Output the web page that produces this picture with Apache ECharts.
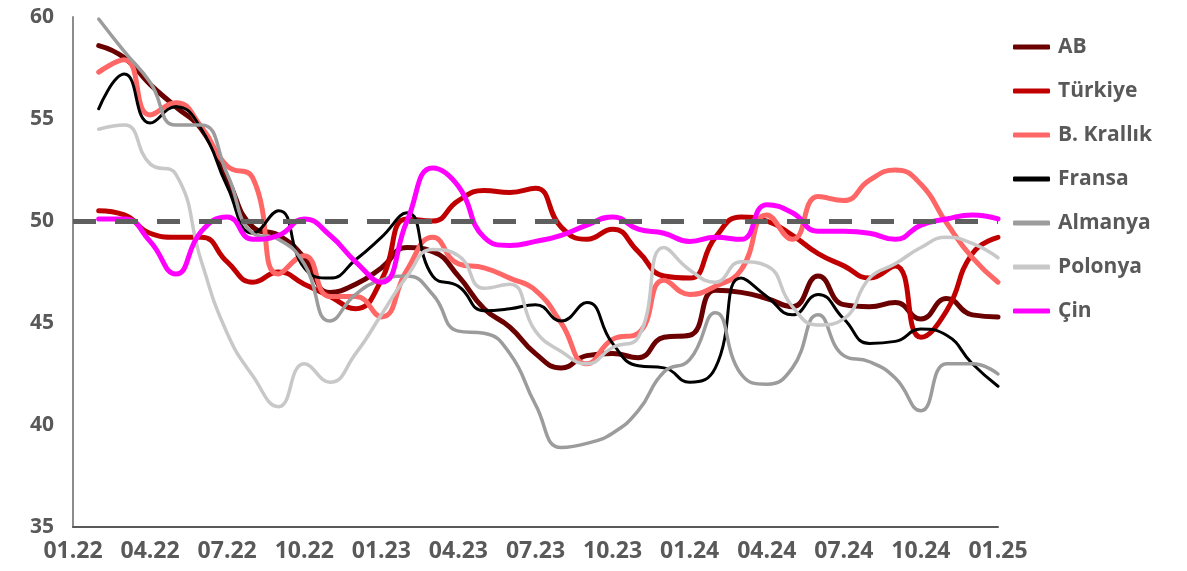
<!DOCTYPE html>
<html>
<head>
<meta charset="utf-8">
<script src="https://cdn.jsdelivr.net/npm/echarts@6/dist/echarts.min.js"></script>
<style>
html,body{margin:0;padding:0;background:#fff;}
#chart{width:1187px;height:571px;}
</style>
</head>
<body>
<div id="chart"></div>
<script>
const categories = ['01.22','02.22','03.22','04.22','05.22','06.22','07.22','08.22','09.22','10.22','11.22','12.22',
  '01.23','02.23','03.23','04.23','05.23','06.23','07.23','08.23','09.23','10.23','11.23','12.23',
  '01.24','02.24','03.24','04.24','05.24','06.24','07.24','08.24','09.24','10.24','11.24','12.24','01.25'];
const yTicks = [35, 40, 45, 50, 55, 60];
const refLevel = 50;

const AB = [null, 58.6, 58.0, 56.7, 55.6, 54.5, 52.1, 49.7, 49.3, 48.2, 46.5, 46.9, 47.7, 48.7, 48.5, 47.3, 45.7, 44.8, 43.5, 42.8, 43.4, 43.5, 43.3, 44.3, 44.4, 46.6, 46.5, 46.2, 45.8, 47.3, 45.9, 45.8, 46.0, 45.2, 46.2, 45.4, 45.3];
const Turkiye = [null, 50.5, 50.3, 49.4, 49.2, 49.2, 48.0, 47.0, 47.5, 46.9, 46.3, 45.7, 47.1, 50.1, 50.0, 51.0, 51.5, 51.4, 51.6, 49.7, 49.1, 49.6, 48.5, 47.3, 47.2, 49.2, 50.2, 50.0, 49.3, 48.4, 47.8, 47.2, 47.8, 44.3, 45.6, 48.4, 49.2];
const BKrallik = [null, 57.3, 57.9, 55.2, 55.8, 54.6, 52.7, 52.1, 47.4, 48.3, 46.3, 46.3, 45.3, 47.6, 49.2, 47.9, 47.7, 47.2, 46.6, 45.0, 43.0, 44.2, 44.5, 47.1, 46.4, 46.8, 47.6, 50.3, 49.1, 51.2, 51.0, 52.0, 52.5, 51.8, 49.9, 48.2, 47.0];
const Fransa = [null, 55.5, 57.2, 54.8, 55.6, 54.5, 51.7, 49.4, 50.5, 47.7, 47.2, 48.1, 49.2, 50.4, 47.3, 46.8, 45.6, 45.7, 45.9, 45.1, 46.0, 44.0, 42.9, 42.8, 42.1, 42.8, 47.2, 46.3, 45.4, 46.4, 45.2, 44.0, 44.1, 44.7, 44.4, 43.0, 41.9];
const Almanya = [null, 59.9, 58.3, 56.8, 54.7, 54.7, 52.3, 49.4, 49.1, 47.9, 45.1, 46.4, 47.1, 47.3, 46.4, 44.6, 44.5, 43.5, 41.0, 38.9, 39.1, 39.6, 40.7, 42.6, 43.2, 45.5, 42.5, 42.0, 42.8, 45.4, 43.4, 43.1, 42.3, 40.7, 43.0, 43.0, 42.5];
const Polonya = [null, 54.5, 54.7, 52.8, 52.3, 48.0, 44.5, 42.4, 40.9, 43.0, 42.1, 43.5, 45.4, 47.3, 48.6, 48.3, 46.7, 46.9, 44.6, 43.6, 43.0, 43.8, 44.3, 48.7, 47.6, 47.0, 48.0, 47.8, 45.8, 44.9, 45.2, 47.2, 47.9, 48.7, 49.2, 48.9, 48.2];
const Cin = [null, 50.1, 50.1, 49.0, 47.4, 49.5, 50.2, 49.1, 49.3, 50.1, 49.3, 48.0, 47.0, 50.0, 52.6, 51.7, 49.2, 48.8, 49.0, 49.3, 49.8, 50.2, 49.6, 49.4, 49.0, 49.2, 49.1, 50.8, 50.4, 49.5, 49.5, 49.4, 49.1, 49.8, 50.1, 50.3, 50.1];

const seriesDefs = [
  {name: 'AB', data: AB, color: '#6B0000', width: 5},
  {name: 'Türkiye', data: Turkiye, color: '#C00000', width: 5},
  {name: 'B. Krallık', data: BKrallik, color: '#FF6666', width: 5},
  {name: 'Fransa', data: Fransa, color: '#000000', width: 3},
  {name: 'Almanya', data: Almanya, color: '#9C9C9C', width: 3.5},
  {name: 'Polonya', data: Polonya, color: '#C8C8C8', width: 3.5},
  {name: 'Çin', data: Cin, color: '#FF00FF', width: 5}
];

const FONT = '"Open Sans", "DejaVu Sans", sans-serif';
const TXT = '#595959';

const chart = echarts.init(document.getElementById('chart'), null, {renderer: 'canvas'});

const series = [{
  name: 'ref',
  type: 'line',
  data: [],
  silent: true,
  z: 1,
  markLine: {
    silent: true,
    symbol: ['none', 'none'],
    label: {show: false},
    lineStyle: {color: '#5F5F5F', width: 5, type: [23, 19], cap: 'butt'},
    data: [{yAxis: refLevel}]
  }
}];
seriesDefs.forEach(s => {
  series.push({
    name: s.name,
    type: 'line',
    data: s.data,
    smooth: 0.5,
    showSymbol: false,
    symbol: 'none',
    z: 2,
    color: s.color,
    lineStyle: {color: s.color, width: s.width, cap: 'round', join: 'round'},
    itemStyle: {color: s.color}
  });
});

chart.setOption({
  animation: false,
  backgroundColor: '#ffffff',
  grid: {left: 73, right: 189, top: 17, bottom: 44, containLabel: false},
  legend: {
    orient: 'vertical',
    left: 1008,
    top: 31,
    itemGap: 22,
    itemWidth: 37,
    itemHeight: 5,
    icon: 'roundRect',
    data: seriesDefs.map(s => ({name: s.name, itemStyle: {color: s.color}})),
    textStyle: {fontFamily: FONT, fontSize: 21, fontWeight: 'bold', color: TXT, padding: [0, 0, 0, 3], lineHeight: 22}
  },
  xAxis: {
    type: 'category',
    data: categories,
    boundaryGap: false,
    axisLine: {show: true, lineStyle: {color: '#595959', width: 2}},
    axisTick: {show: false},
    axisLabel: {interval: 2, margin: 13, fontFamily: FONT, fontSize: 23, fontWeight: 'bold', color: TXT},
    splitLine: {show: false}
  },
  yAxis: {
    type: 'value',
    min: yTicks[0],
    max: yTicks[yTicks.length - 1],
    interval: yTicks[1] - yTicks[0],
    axisLine: {show: true, lineStyle: {color: '#8C8C8C', width: 2}},
    axisTick: {show: false},
    axisLabel: {margin: 19, fontFamily: FONT, fontSize: 21, fontWeight: 'bold', color: TXT},
    splitLine: {show: false}
  },
  series: series
});
</script>
</body>
</html>
